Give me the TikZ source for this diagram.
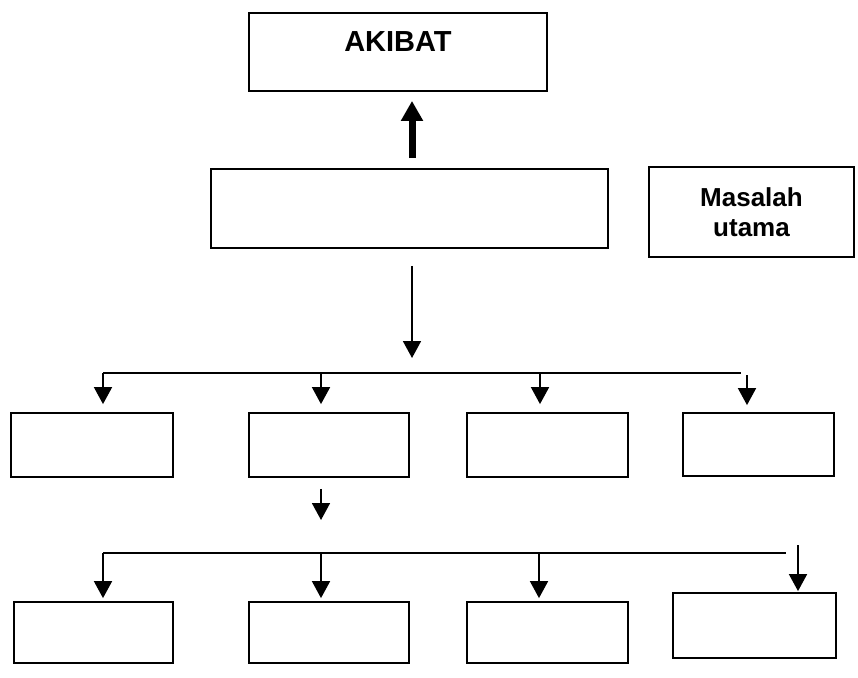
\documentclass[tikz,border=0pt]{standalone}
\usepackage{fontspec}
\setmainfont{Liberation Sans}
\usetikzlibrary{arrows.meta}

\begin{document}
\begin{tikzpicture}[x=1pt,y=-1pt,
  kotak/.style={draw,line width=1.8pt,inner sep=0pt},
  garis/.style={line width=1.8pt},
  panah/.style={line width=1.8pt,-{Triangle[width=18pt,length=17pt]}},
  panahtebal/.style={line width=7pt,-{Triangle[width=21pt,length=20pt]}}]
\useasboundingbox (0,0) rectangle (858,677);
\node[kotak,minimum width=298pt,minimum height=78pt,text height=22pt,text depth=22pt,
  font=\bfseries\fontsize{29}{34}\selectfont] (akibat) at (398,52) {AKIBAT};
\node[kotak,minimum width=397pt,minimum height=79pt] (inti) at (409.5,208.5) {};
\node[kotak,minimum width=205pt,minimum height=90pt,align=center,
  font=\bfseries\fontsize{26}{30}\selectfont] (masalah) at (751.5,212) {Masalah\\utama};
\node[kotak,minimum width=162pt,minimum height=64pt] (s1) at (92,445) {};
\node[kotak,minimum width=160pt,minimum height=64pt] (s2) at (329,445) {};
\node[kotak,minimum width=161pt,minimum height=64pt] (s3) at (547.5,445) {};
\node[kotak,minimum width=151pt,minimum height=63pt] (s4) at (758.5,444.5) {};
\node[kotak,minimum width=159pt,minimum height=61pt] (t1) at (93.5,632.5) {};
\node[kotak,minimum width=160pt,minimum height=61pt] (t2) at (329,632.5) {};
\node[kotak,minimum width=161pt,minimum height=61pt] (t3) at (547.5,632.5) {};
\node[kotak,minimum width=163pt,minimum height=65pt] (t4) at (754.5,625.5) {};
\coordinate (m) at (412,373);
\coordinate (p1) at (103,373);
\coordinate (p2) at (321,373);
\coordinate (p3) at (540,373);
\coordinate (p4) at (747,375);
\coordinate (ujung1) at (741,373);
\coordinate (q1) at (103,553);
\coordinate (q2) at (321,553);
\coordinate (q3) at (539,553);
\coordinate (q4) at (798,545);
\coordinate (ujung2) at (786,553);
\draw[panahtebal,shorten <=10pt,shorten >=9pt] (m |- inti.north) -- (m |- akibat.south);
\draw[panah,shorten <=17pt,shorten >=15pt] (m |- inti.south) -- (m);
\draw[garis] (p1) -- (ujung1);
\foreach \i in {1,2,3}
  \draw[panah,shorten >=8pt] (p\i) -- (p\i |- s\i.north);
\draw[panah,shorten >=7pt] (p4) -- (p4 |- s4.north);
\draw[panah,shorten <=11pt,shorten >=33pt] (q2 |- s2.south) -- (q2);
\draw[garis] (q1) -- (ujung2);
\foreach \i in {1,2,3}
  \draw[panah,shorten >=3pt] (q\i) -- (q\i |- t\i.north);
\draw[panah,shorten >=1pt] (q4) -- (q4 |- t4.north);
\end{tikzpicture}
\end{document}
